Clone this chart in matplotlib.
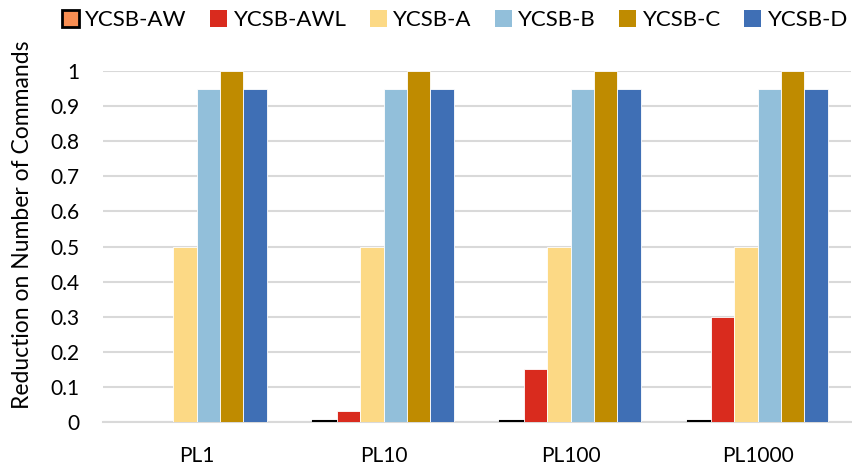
import matplotlib.pyplot as plt
import numpy as np

plt.rcParams['font.family'] = ['Lato', 'DejaVu Sans']

groups = ['PL1', 'PL10', 'PL100', 'PL1000']
series = ['YCSB-AW', 'YCSB-AWL', 'YCSB-A', 'YCSB-B', 'YCSB-C', 'YCSB-D']
aw = [0.0, 0.003, 0.003, 0.003]
awl = [0.0, 0.03, 0.15, 0.30]
ycsb_a = [0.5, 0.5, 0.5, 0.5]
ycsb_b = [0.95, 0.95, 0.95, 0.95]
ycsb_c = [1.0, 1.0, 1.0, 1.0]
ycsb_d = [0.95, 0.95, 0.95, 0.95]

values = [aw, awl, ycsb_a, ycsb_b, ycsb_c, ycsb_d]
colors = ['#F98E52', '#D92B1E', '#FCD985', '#92BFDA', '#BF8B00', '#3F6FB5']
edges = ['black', 'white', 'white', 'white', 'white', 'white']

fig = plt.figure(figsize=(8.52, 4.71), dpi=100)
ax = fig.add_axes([0.121, 0.104, 0.878, 0.745])

x = np.arange(len(groups))
w = 0.125
for i, (vals, c, e) in enumerate(zip(values, colors, edges)):
    base_lw = 1.5 if e == 'black' else 0.6
    lws = [base_lw if v > 0 else 0 for v in vals]
    ax.bar(x + (i - 2.5) * w, vals, w, color=c, edgecolor=e,
           linewidth=lws, label=series[i], zorder=3)

ax.set_ylim(0, 1.0)
ax.set_xlim(-0.5, 3.5)
ax.set_yticks(np.arange(0, 1.01, 0.1))
ax.set_yticklabels(['0', '0.1', '0.2', '0.3', '0.4', '0.5', '0.6', '0.7', '0.8', '0.9', '1'])
ax.set_xticks(x)
ax.set_xticklabels(groups)
ax.tick_params(axis='y', length=0, labelsize=15, colors='black', pad=17)
ax.tick_params(axis='x', length=0, labelsize=15, colors='black', pad=17)
ax.yaxis.grid(True, color='#D9D9D9', linewidth=1.5, zorder=0)
ax.set_axisbelow(True)
for s in ['top', 'right', 'left']:
    ax.spines[s].set_visible(False)
ax.spines['bottom'].set_color('#D9D9D9')
ax.spines['bottom'].set_linewidth(1.5)
ax.set_ylabel('Reduction on Number of Commands', fontsize=16.5)
ax.yaxis.set_label_coords(-0.094, 0.561)

handles, labels = ax.get_legend_handles_labels()
leg = fig.legend(handles, labels, loc='center', bbox_to_anchor=(455 / 852, 1 - 20 / 471),
                 ncol=6, frameon=False, fontsize=16, handlelength=0.77, handleheight=0.77,
                 handletextpad=0.28, columnspacing=1.05, borderpad=0)
for h in leg.legend_handles:
    if h.get_edgecolor()[0] < 0.5:
        h.set_linewidth(2)
    else:
        h.set_linewidth(0)

fig.savefig('out.png', dpi=100)
